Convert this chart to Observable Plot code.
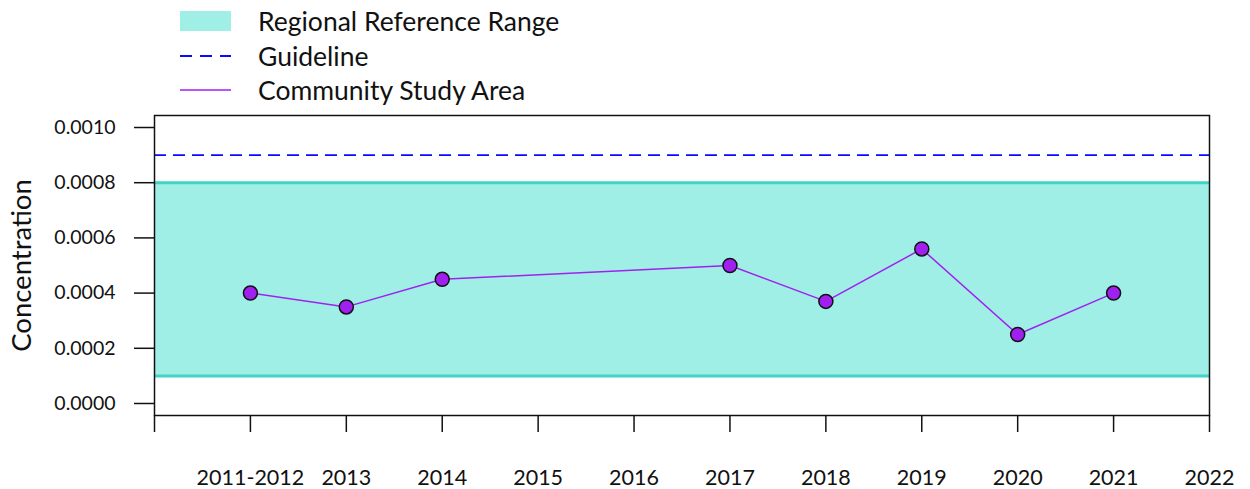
<!DOCTYPE html>
<html>
<head>
<meta charset="utf-8">
<script src="https://cdn.jsdelivr.net/npm/d3@7"></script>
<script src="https://cdn.jsdelivr.net/npm/@observablehq/plot@0.6"></script>
<style>
  html, body { margin: 0; padding: 0; background: #fff; }
  body { width: 1250px; height: 489px; overflow: hidden; font-family: Lato, "Open Sans", sans-serif; }
  #legend { position: relative; height: 110px; width: 1250px; }
  .li { position: absolute; left: 180px; display: flex; align-items: center; font-size: 26.5px; color: #111; }
  .li svg { margin-right: 27px; }
</style>
</head>
<body>
<div id="legend"></div>
<div id="chart"></div>
<script>
// Category labels on the x axis (index 0 is the unlabelled axis start)
const categories = ["", "2011-2012", "2013", "2014", "2015", "2016", "2017", "2018", "2019", "2020", "2021", "2022"];
// Community Study Area observations
const studyYears = ["2011-2012", "2013", "2014", "2017", "2018", "2019", "2020", "2021"];
const studyValues = [0.0004, 0.00035, 0.00045, 0.0005, 0.00037, 0.00056, 0.00025, 0.0004];
// Regional reference range and guideline
const rangeLow = 0.0001;
const rangeHigh = 0.0008;
const guideline = 0.0009;
const yTicks = [0, 0.0002, 0.0004, 0.0006, 0.0008, 0.0010];

const bandFill = "#a0efe6";
const bandEdge = "#40d3c6";
const guideColor = "#0a0aff";
const seriesColor = "#a020f0";

const legendItems = [
  {label: "Regional Reference Range", y: 21, kind: "rect"},
  {label: "Guideline", y: 56, kind: "dash"},
  {label: "Community Study Area", y: 90, kind: "line"}
];
const legend = document.getElementById("legend");
for (const it of legendItems) {
  const d = document.createElement("div");
  d.className = "li";
  d.style.top = (it.y - 17) + "px";
  d.style.height = "34px";
  let sw;
  if (it.kind === "rect") sw = `<rect x="0" y="7" width="51" height="20" fill="${bandFill}"/>`;
  else if (it.kind === "dash") sw = `<line x1="0" x2="51" y1="17" y2="17" stroke="${guideColor}" stroke-width="1.8" stroke-dasharray="12,8"/>`;
  else sw = `<line x1="0" x2="51" y1="17" y2="17" stroke="${seriesColor}" stroke-width="1.5"/>`;
  d.innerHTML = `<svg width="51" height="34">${sw}</svg><span>${it.label}</span>`;
  legend.appendChild(d);
}

const idx = new Map(categories.map((c, i) => [c, i]));
const study = studyYears.map((c, i) => ({x: idx.get(c), y: studyValues[i]}));
const xMax = categories.length - 1;

const chart = Plot.plot({
  width: 1250,
  height: 379,
  marginLeft: 154,
  marginRight: 41,
  marginTop: 5,
  marginBottom: 74,
  style: {fontFamily: "Lato, 'Open Sans', sans-serif", fontSize: "19px", color: "#111", background: "#fff", overflow: "visible"},
  x: {domain: [0, xMax], label: null},
  y: {domain: [-0.0000435, 0.0010435], label: null},
  marks: [
    Plot.rectY([{}], {x1: 0, x2: xMax, y1: rangeLow, y2: rangeHigh, fill: bandFill}),
    Plot.ruleY([rangeLow, rangeHigh], {stroke: bandEdge, strokeWidth: 3}),
    Plot.ruleY([guideline], {stroke: guideColor, strokeWidth: 1.8, strokeDasharray: "12,7"}),
    Plot.line(study, {x: "x", y: "y", stroke: seriesColor, strokeWidth: 1.5}),
    Plot.dot(study, {x: "x", y: "y", r: 7, fill: seriesColor, stroke: "#111", strokeWidth: 1.5}),
    Plot.frame({stroke: "#111", strokeWidth: 1.5}),
    Plot.axisY({ticks: yTicks, tickFormat: d => d.toFixed(4), tickSize: 20, tickPadding: 19, stroke: "#111", strokeWidth: 1.5, label: null, fontSize: 19.5}),
    Plot.axisX({ticks: d3.range(categories.length), tickFormat: i => categories[i], tickSize: 17, tickPadding: 37, stroke: "#111", strokeWidth: 1.5, label: null, fontSize: 21.5}),
    Plot.text(["Concentration"], {frameAnchor: "left", dx: -132, rotate: -90, textAnchor: "middle", fontSize: 27.5, fill: "#111"})
  ]
});
document.getElementById("chart").appendChild(chart);
</script>
</body>
</html>
